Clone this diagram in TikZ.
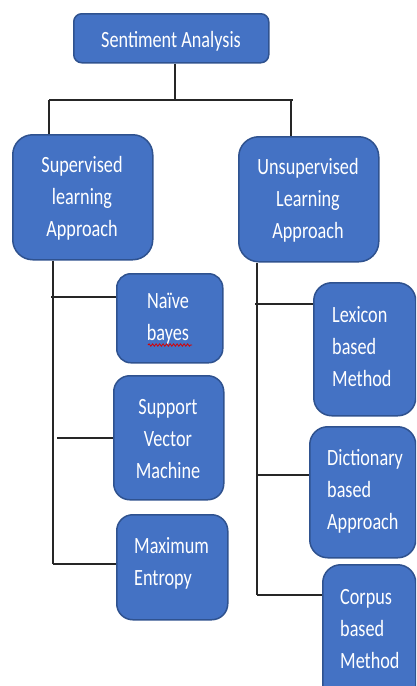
\documentclass[tikz,border=0pt]{standalone}
\usepackage{fontspec}
\setmainfont{Carlito}
\usetikzlibrary{decorations.pathmorphing}
\definecolor{boxfill}{HTML}{4472C4}
\definecolor{boxline}{HTML}{2F528F}
\newcommand\stretchln[1]{\scalebox{1}[1.28]{#1}}
\tikzset{
  box/.style={draw=boxline, fill=boxfill, line width=1.5pt, anchor=north west, inner sep=0pt},
  lbl/.style={text=white, font=\fontsize{18.2}{32}\selectfont, inner sep=0pt},
  conn/.style={draw=black!85, line width=1.3pt},
}
\begin{document}
\begin{tikzpicture}[x=1pt,y=-1pt]
\useasboundingbox (0,0) rectangle (416,686);
\clip (0,0) rectangle (416,686);
% connector junctions
\coordinate (j) at (175,100);
\coordinate (jl) at (49,100);
\coordinate (jr) at (293,100);
\coordinate (jru) at (291,100);
\coordinate (lt) at (53,259);
\coordinate (lb) at (53,564);
\coordinate (rt) at (257,261);
\coordinate (rb) at (257,595);
% boxes
\node[box, rounded corners=8pt, minimum width=195pt, minimum height=49pt] (sa) at (73,13) {};
\node[box, rounded corners=20pt, minimum width=140pt, minimum height=125pt] (sup) at (12,134) {};
\node[box, rounded corners=20pt, minimum width=140pt, minimum height=125pt] (uns) at (238,136) {};
\node[box, rounded corners=14pt, minimum width=106pt, minimum height=89pt] (nb) at (116,273) {};
\node[box, rounded corners=16pt, minimum width=110pt, minimum height=124pt] (svm) at (113,375) {};
\node[box, rounded corners=16pt, minimum width=111pt, minimum height=105pt] (me) at (116,514) {};
\node[box, rounded corners=18pt, minimum width=102pt, minimum height=133pt] (lex) at (313,282) {};
\node[box, rounded corners=18pt, minimum width=106pt, minimum height=131pt] (dic) at (309,426) {};
\node[box, rounded corners=18pt, minimum width=93pt, minimum height=140pt] (cor) at (322,564) {};
% connectors
\draw[conn] (sa.south -| j) -- (j);
\draw[conn] (jl) -- (jr);
\draw[conn] (jl) -- (jl |- sup.north);
\draw[conn] (jru) -- (jru |- uns.north);
\draw[conn] (lt |- sup.south) -- (lb);
\draw[conn] (51,297) -- (nb.west |- 0,297);
\draw[conn] (57,438) -- (svm.west |- 0,438);
\draw[conn] (lb) -- (me.west |- lb);
\draw[conn] (rt |- uns.south) -- (rb);
\draw[conn] (255,304) -- (lex.west |- 0,304);
\draw[conn] (258,475) -- (dic.west |- 0,475);
\draw[conn] (rb) -- (cor.west |- rb);
% labels
\node[lbl] (saT) at (171,41) {\stretchln{Sentiment Analysis}};
\node[lbl, align=center] (supT) at (82,198.5) {\stretchln{Supervised}\\\stretchln{learning}\\\stretchln{Approach}};
\node[lbl, align=center] (unsT) at (308,200.5) {\stretchln{Unsupervised}\\\stretchln{Learning}\\\stretchln{Approach}};
\node[lbl, align=center] (nbT) at (168,319) {\stretchln{Naïve}\\\stretchln{bayes}};
\node[lbl, align=center] (svmT) at (168,439.5) {\stretchln{Support}\\\stretchln{Vector}\\\stretchln{Machine}};
\node[lbl, align=left, anchor=west] (meT) at (134,563) {\stretchln{Maximum}\\\stretchln{Entropy}};
\node[lbl, align=left, anchor=west] (lexT) at (332,346.5) {\stretchln{Lexicon}\\\stretchln{based}\\\stretchln{Method}};
\node[lbl, align=left, anchor=west] (dicT) at (327,491.5) {\stretchln{Dictionary}\\\stretchln{based}\\\stretchln{Approach}};
\node[lbl, align=left, anchor=west] (corT) at (340,629.5) {\stretchln{Corpus}\\\stretchln{based}\\\stretchln{Method}};
% spell-check squiggle
\draw[red!85!black, line width=0.8pt, decorate, decoration={snake, amplitude=1.2pt, segment length=3.5pt}] (148,345) -- (192,345);
\end{tikzpicture}
\end{document}
